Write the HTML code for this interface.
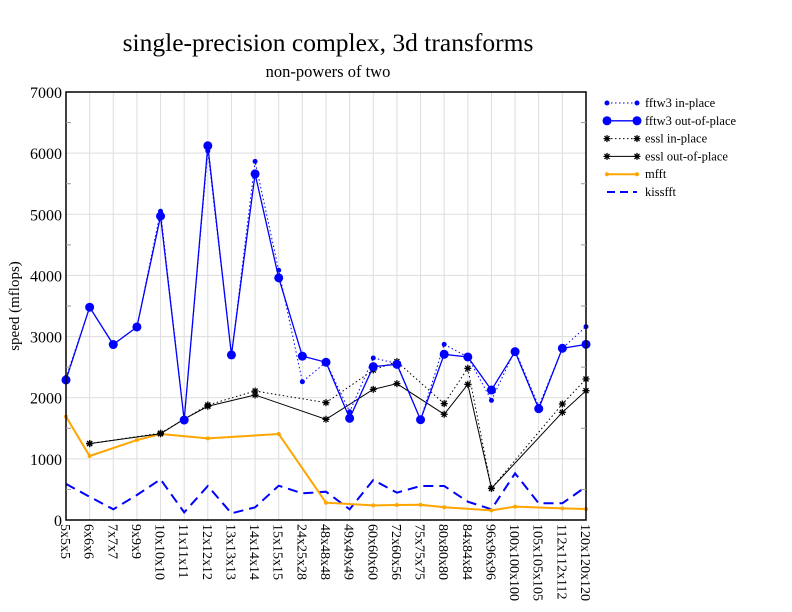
<!DOCTYPE html>
<html><head><meta charset="utf-8"><style>
body{margin:0;background:#fff;}
svg{display:block;font-family:"Liberation Serif",serif;}
</style></head><body>
<svg id="chart" width="792" height="612" viewBox="0 0 792 612">
<text x="328" y="51" font-size="25.5" text-anchor="middle">single-precision complex, 3d transforms</text>
<text x="328" y="77" font-size="16.5" text-anchor="middle">non-powers of two</text>
<text transform="translate(19,306) rotate(-90)" font-size="15" text-anchor="middle">speed (mflops)</text>
<g id="grid"></g>
<g id="series"></g>
<rect x="66" y="92" width="520" height="428" fill="none" stroke="#000" stroke-width="1.5"/>
<g id="axes"></g>
<g id="legend"></g>
</svg>
<script>
const categories=["5x5x5","6x6x6","7x7x7","9x9x9","10x10x10","11x11x11","12x12x12","13x13x13","14x14x14","15x15x15","24x25x28","48x48x48","49x49x49","60x60x60","72x60x56","75x75x75","80x80x80","84x84x84","96x96x96","100x100x100","105x105x105","112x112x112","120x120x120"];
const fftw3In=[2330,3480,2870,3157,5050,1640,6035,2700,5866,4084,2262,2580,1771,2650,2560,1640,2873,2666,1957,2780,1860,2808,3162];
const fftw3Out=[2290,3480,2870,3157,4970,1635,6120,2700,5660,3960,2680,2580,1663,2508,2546,1640,2710,2666,2126,2753,1820,2808,2873];
const esslIn=[null,1250,null,null,1420,1650,1881,null,2110,null,null,1919,null,2453,2590,null,1903,2481,518,null,null,1897,2306];
const esslOut=[null,1250,null,null,1410,1650,1860,null,2045,null,null,1647,null,2137,2230,null,1729,2219,518,null,null,1761,2115];
const mfft=[1690,1047,null,1308,1406,null,1336,null,null,1406,null,283,null,240,245,250,208,null,158,218,null,190,180];
const kissfft=[590,380,175,409,665,125,556,109,207,561,436,463,175,654,447,556,556,300,175,763,273,273,545];
const yTicks=[0,1000,2000,3000,4000,5000,6000,7000];
const NS="http://www.w3.org/2000/svg";
const X0=66,X1=586,Y0=520,Y1=92,YMAX=7000;
const xs=i=>X0+(X1-X0)*i/(categories.length-1);
const ys=v=>Y0-(Y0-Y1)*v/YMAX;
function mk(tag,attrs,parent){const e=document.createElementNS(NS,tag);for(const k in attrs)e.setAttribute(k,attrs[k]);parent.appendChild(e);return e;}
const grid=document.getElementById('grid'),axes=document.getElementById('axes'),ser=document.getElementById('series'),leg=document.getElementById('legend');
yTicks.forEach(t=>{
  const l=mk('line',{x1:X0,x2:X1,y1:ys(t),y2:ys(t),stroke:'#ddd','stroke-width':1},grid);
  
  
  const tx=mk('text',{x:X0-4,y:ys(t)+6,'font-size':16,'text-anchor':'end'},axes);
  tx.textContent=t;
  
  
  if(t<YMAX){[X0,X1].forEach(xx=>{const m=mk('line',{x1:xx,x2:xx+(xx==X0?5:-5),y1:ys(t+500),y2:ys(t+500),stroke:'#999'},axes);
  
  });}
});
categories.forEach((c,i)=>{
  const l=mk('line',{x1:xs(i),x2:xs(i),y1:Y1,y2:Y0,stroke:'#ddd','stroke-width':1},grid);
  
  
  const tx=mk('text',{transform:`translate(${xs(i)-5},524) rotate(90)`,'font-size':14},axes);
  tx.textContent=c;
  
  
});
function star(g,x,y,col){const p=mk('path',{d:`M${x-3.5},${y}h7M${x},${y-3.5}v7M${x-2.5},${y-2.5}l5,5M${x-2.5},${y+2.5}l5,-5`,stroke:col,'stroke-width':1.3},g);}
function dot(g,x,y,col,r){const c=mk('circle',{cx:x,cy:y,r:r,fill:col},g);}
const seriesDefs=[
 {name:'kissfft',data:kissfft,col:'#0000ff',w:2,dash:'10,6',mk:null},
 {name:'mfft',data:mfft,col:'#ffa500',w:2,dash:null,mk:'dot',r:2},
 {name:'essl in-place',data:esslIn,col:'#000',w:1,dash:'1.5,2.5',mk:'star'},
 {name:'essl out-of-place',data:esslOut,col:'#000',w:1,dash:null,mk:'star'},
 {name:'fftw3 in-place',data:fftw3In,col:'#0000ff',w:1,dash:'1.5,2.5',mk:'dot',r:2.5},
 {name:'fftw3 out-of-place',data:fftw3Out,col:'#0000ff',w:1.3,dash:null,mk:'dot',r:4.5}
];
seriesDefs.forEach(s=>{
  const g=mk('g',{},ser);
  
  
  const pts=[];s.data.forEach((v,i)=>{if(v!==null)pts.push([xs(i),ys(v)]);});
  const pl=mk('polyline',{points:pts.map(p=>p.join(',')).join(' '),fill:'none',stroke:s.col,'stroke-width':s.w},g);
  if(s.dash)pl.setAttribute('stroke-dasharray',s.dash);
  
  
  pts.forEach(p=>{if(s.mk=='dot')dot(g,p[0],p[1],s.col,s.r);else if(s.mk=='star')star(g,p[0],p[1],s.col);});
});
const legOrder=[4,5,2,3,1,0];
legOrder.forEach((si,k)=>{
  const s=seriesDefs[si];const y=103+k*17.8;
  const g=mk('g',{},leg);
  
  
  const l=mk('line',{x1:607,x2:637,y1:y,y2:y,stroke:s.col,'stroke-width':s.w},g);
  if(s.dash)l.setAttribute('stroke-dasharray',s.name=='kissfft'?'8,5':s.dash);
  if(s.mk=='dot'){dot(g,607,y,s.col,s.r);dot(g,637,y,s.col,s.r);}
  if(s.mk=='star'){star(g,607,y,s.col);star(g,637,y,s.col);}
  const t=mk('text',{x:645,y:y+4,'font-size':12.5},g);
  t.textContent=s.name;
  
  
});
</script>
</body></html>
